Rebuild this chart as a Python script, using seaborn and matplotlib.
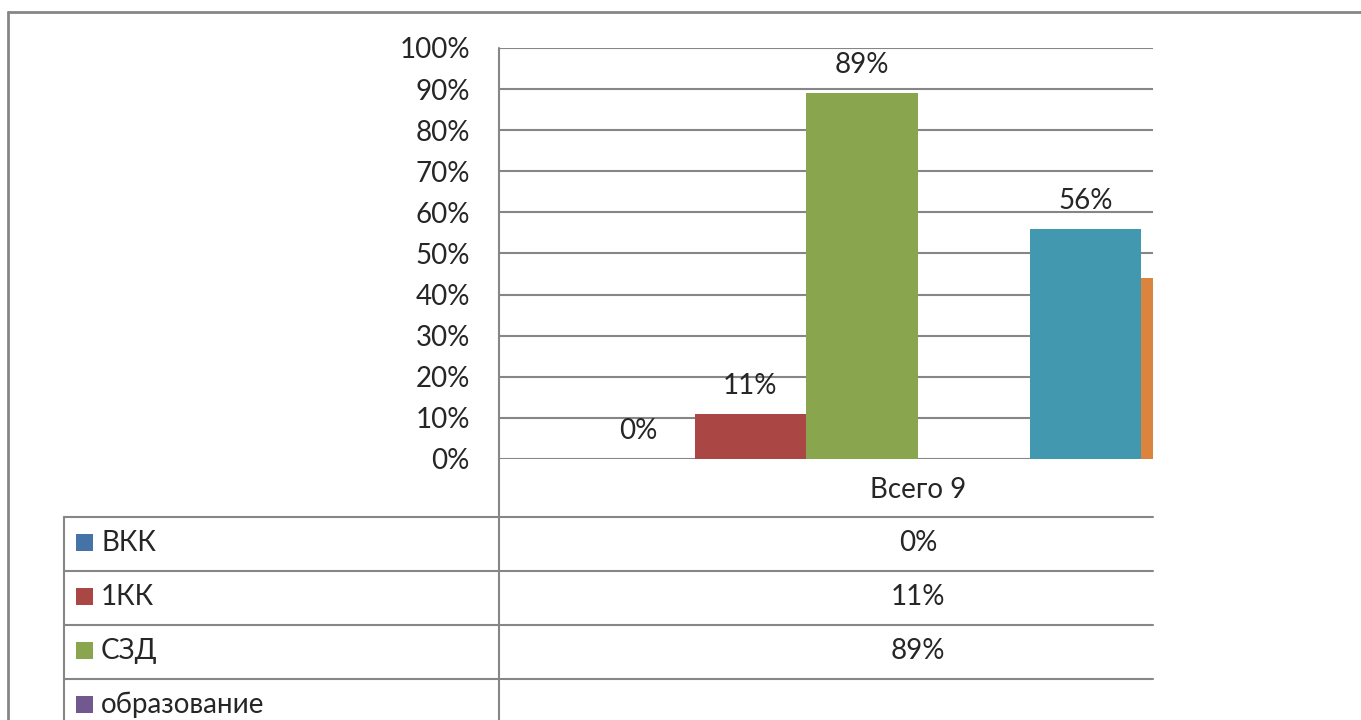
import numpy as np
import pandas as pd
import matplotlib
matplotlib.use("Agg")
import matplotlib.pyplot as plt
from matplotlib.lines import Line2D
from matplotlib.patches import Rectangle
import seaborn as sns

# data
categories = ["Всего 9"]
series = ["ВКК", "1КК", "СЗД", "образование", "высшее", "среднее специальное"]
values = [0, 11, 89, np.nan, 56, 44]
colors = ["#4572A7", "#AA4643", "#89A54E", "#71588F", "#4198AF", "#DB843D"]
yticks = [0, 10, 20, 30, 40, 50, 60, 70, 80, 90, 100]

df = pd.DataFrame({"cat": categories * len(series), "series": series, "value": values})
df_plot = df.dropna()

sns.set_style("white")
plt.rcParams["font.family"] = ["Lato", "DejaVu Sans"]

W, H = 1361, 720
fig = plt.figure(figsize=(W / 100, H / 100), dpi=100)


def fx(x):
    return x / W


def fy(y):
    return 1 - y / H


gray = "#868686"
ax = fig.add_axes([fx(499), fy(459), fx(1153) - fx(499), (459 - 48) / H])

sns.barplot(data=df_plot, x="cat", y="value", hue="series", hue_order=series,
            palette=dict(zip(series, colors)), width=0.8, saturation=1,
            legend=False, ax=ax, linewidth=0)

ax.set_ylim(0, 100)
ax.set_xlim(-0.5, 0.2804)
ax.set_yticks(yticks)
ax.set_yticklabels([f"{t}%" for t in yticks], fontsize=20)
ax.tick_params(axis="y", length=0, pad=21)
ax.set_xticks([])
ax.set_xlabel("")
ax.set_ylabel("")
for t in yticks:
    ax.axhline(t, color=gray, lw=1.5, zorder=0)
for s in ["top", "right", "bottom", "left"]:
    ax.spines[s].set_visible(False)

for c in ax.containers:
    labs = ["" if np.isnan(v) else f"{v:.0f}%" for v in c.datavalues]
    ax.bar_label(c, labels=labs, padding=11, fontsize=20)


# data table below the chart
def line(x0, y0, x1, y1, lw=1.5):
    fig.add_artist(Line2D([fx(x0), fx(x1)], [fy(y0), fy(y1)], color=gray, lw=lw))


line(499, 48, 499, 720)
for y in [517, 571, 625, 679]:
    line(64, y, 1153, y)
line(64, 517, 64, 720)

fig.text(fx(918), fy(490), categories[0], ha="center", va="center", fontsize=20)
row_h = 54
for i, (name, col, v) in enumerate(zip(series, colors, values)):
    yc = 543 + i * row_h
    if yc > 720:
        break
    fig.add_artist(Rectangle((fx(76), fy(yc + 8)), fx(17), 17 / H,
                             facecolor=col, edgecolor="none", transform=fig.transFigure))
    fig.text(fx(101), fy(yc), name, ha="left", va="center", fontsize=20)
    if not np.isnan(v):
        fig.text(fx(918), fy(yc), f"{v:.0f}%", ha="center", va="center", fontsize=20)

# outer chart frame
line(8, 12, W, 12, lw=2)
line(8, 12, 8, H, lw=2)

fig.savefig("out.png", dpi=100)
